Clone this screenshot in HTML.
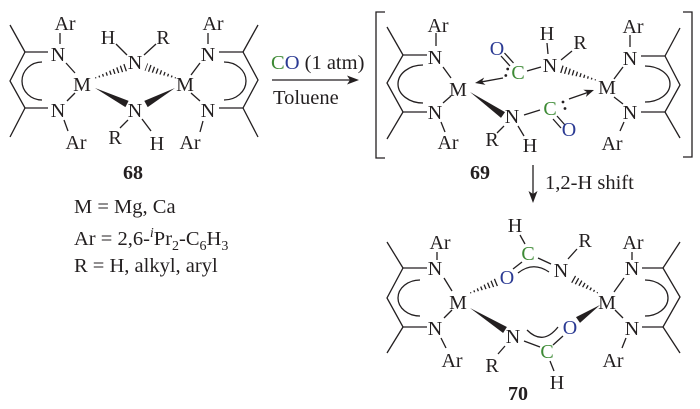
<!DOCTYPE html>
<html><head><meta charset="utf-8"><style>
html,body{margin:0;padding:0;background:#fff;}
svg{display:block;}
text{font-family:"Liberation Serif",serif;font-size:20px;fill:#231f20;}
.g{fill:#3d8a35;}
.b{fill:#2b3a93;}
.bd{font-weight:bold;}
.lg{font-size:20.5px;}
</style></head><body>
<svg width="700" height="409" viewBox="0 0 700 409" xmlns="http://www.w3.org/2000/svg">
<defs>
<clipPath id="h1"><polygon points="95,77.5 95,78.5 128.3,70.8 125.7,63.2"/></clipPath>
<clipPath id="h2"><polygon points="176,77.5 176,78.5 144.6,70.75 147.4,63.25"/></clipPath>
<clipPath id="h3"><polygon points="596,79.5 596,80.5 559.8,72.8 562.2,65.2"/></clipPath>
<clipPath id="h4"><polygon points="470,292.5 470,293.5 498.5,285.7 495.5,278.3"/></clipPath>
<clipPath id="h5"><polygon points="598,292.5 598,293.5 571.05,282.5 574.95,275.5"/></clipPath>
</defs>
<g stroke="#231f20" stroke-width="1.3" fill="none">
<!-- 68 left ring -->
<line x1="60" y1="33" x2="60" y2="44"/>
<line x1="66" y1="63" x2="75" y2="73"/>
<line x1="67" y1="101" x2="75" y2="93"/>
<line x1="64" y1="120" x2="68" y2="131"/>
<polyline points="48,52 25,52 10,81 25,108 48,108"/>
<line x1="25" y1="52" x2="10" y2="25"/>
<line x1="25" y1="108" x2="10" y2="137"/>
<path d="M42,62 A20 19 0 0 0 42,100"/>
<!-- 68 bridges -->
<line x1="116" y1="44" x2="127" y2="55"/>
<line x1="156" y1="44" x2="144" y2="55"/>
<line x1="128" y1="120" x2="120" y2="128"/>
<line x1="142" y1="119" x2="151" y2="131"/>
<!-- 68 right ring -->
<line x1="191" y1="75" x2="200" y2="63"/>
<line x1="191" y1="93" x2="200" y2="101"/>
<line x1="208" y1="33" x2="208" y2="44"/>
<line x1="203" y1="121" x2="200" y2="132"/>
<polyline points="219,52 243,52 258,80 243,108 219,108"/>
<line x1="243" y1="52" x2="258" y2="25"/>
<line x1="243" y1="108" x2="258" y2="137"/>
<path d="M224,62 A22 19 0 0 1 224,100"/>
<!-- main arrow -->
<line x1="272" y1="80" x2="352" y2="80"/>
<!-- bracket -->
<polyline points="385,12 376,12 376,158 385,158"/>
<polyline points="683,12 692,12 692,157 683,157"/>
<!-- 69 left ring -->
<line x1="436" y1="33" x2="436" y2="46"/>
<line x1="443" y1="67" x2="451" y2="78"/>
<line x1="443" y1="103" x2="451" y2="96"/>
<line x1="441" y1="122" x2="445" y2="132"/>
<polyline points="427,55 403,55 387,83 403,112 427,112"/>
<line x1="403" y1="55" x2="387" y2="27"/>
<line x1="403" y1="112" x2="387" y2="139"/>
<path d="M423,65 A25 19 0 0 0 423,103"/>
<!-- 69 center -->
<line x1="501" y1="56" x2="510" y2="66"/>
<line x1="504.5" y1="53" x2="513.5" y2="63"/>
<line x1="503" y1="78" x2="482" y2="81.8"/>
<line x1="527" y1="71" x2="541" y2="67"/>
<line x1="547" y1="43" x2="548" y2="54"/>
<line x1="572" y1="51" x2="561" y2="60"/>
<line x1="504" y1="126" x2="497" y2="133"/>
<line x1="518" y1="126" x2="524" y2="136"/>
<line x1="524" y1="115" x2="540" y2="110"/>
<line x1="553" y1="119" x2="561" y2="128"/>
<line x1="557" y1="116" x2="565" y2="125"/>
<line x1="569" y1="99" x2="588" y2="92.4"/>
<!-- 69 right ring -->
<line x1="614" y1="79" x2="623" y2="67"/>
<line x1="614" y1="97" x2="623" y2="104"/>
<line x1="630" y1="35" x2="630" y2="47"/>
<line x1="624" y1="122" x2="620" y2="131"/>
<polyline points="641,56 665,56 680,85 665,112 641,112"/>
<line x1="665" y1="56" x2="680" y2="28"/>
<line x1="665" y1="112" x2="680" y2="138"/>
<path d="M645,66 A25 18 0 0 1 645,102"/>
<!-- vertical arrow -->
<line x1="533" y1="165" x2="533" y2="196"/>
<!-- 70 left ring -->
<line x1="437" y1="252" x2="437" y2="260"/>
<line x1="444" y1="278" x2="452" y2="291"/>
<line x1="444" y1="318" x2="452" y2="310"/>
<line x1="441" y1="338" x2="446" y2="348"/>
<polyline points="427,268 403,268 387,298 403,327 427,327"/>
<line x1="403" y1="268" x2="387" y2="242"/>
<line x1="403" y1="327" x2="387" y2="353"/>
<path d="M420,280 A22 18 0 0 0 420,316"/>
<!-- 70 center -->
<line x1="520" y1="235" x2="525" y2="244"/>
<line x1="522" y1="262" x2="513" y2="269"/>
<path d="M518,273 Q533,261 549,272"/>
<line x1="538" y1="258" x2="551" y2="264"/>
<line x1="568" y1="259" x2="577" y2="249"/>
<line x1="505" y1="346" x2="498" y2="354"/>
<line x1="524" y1="341" x2="540" y2="347"/>
<line x1="550" y1="361" x2="554" y2="371"/>
<line x1="553" y1="345" x2="563" y2="336"/>
<path d="M527,330 Q543,346 558,327"/>
<!-- 70 right ring -->
<line x1="614" y1="292" x2="624" y2="278"/>
<line x1="615" y1="310" x2="623" y2="318"/>
<line x1="632" y1="252" x2="632" y2="260"/>
<line x1="626" y1="338" x2="622" y2="348"/>
<polyline points="642,268 663,268 680,297 663,327 642,327"/>
<line x1="663" y1="268" x2="680" y2="242"/>
<line x1="663" y1="327" x2="680" y2="353"/>
<path d="M645,280 A23 18 0 0 1 645,316"/>
</g>
<!-- hashed bonds -->
<g stroke="#231f20" stroke-width="10" stroke-dasharray="1.3 2.6">
<line x1="95" y1="78" x2="128" y2="66.7" clip-path="url(#h1)"/>
<line x1="176" y1="78" x2="145" y2="66.6" clip-path="url(#h2)"/>
<line x1="596" y1="80" x2="560" y2="68.7" clip-path="url(#h3)"/>
<line x1="470" y1="293" x2="498" y2="281.6" clip-path="url(#h4)"/>
<line x1="598" y1="293" x2="572" y2="278.4" clip-path="url(#h5)"/>
</g>
<!-- wedges and arrowheads -->
<g fill="#231f20">
<polygon points="95,88 125.4,107.1 128.6,100.9"/>
<polygon points="175,88 147.7,107.1 144.3,100.9"/>
<polygon points="470,92 501,117.9 505,112.1"/>
<polygon points="470,308 503.1,333 506.9,327"/>
<polygon points="600,305 580,322.9 576,317.1"/>
<polygon points="359,80 347,75.5 350,80 347,84.5"/>
<polygon points="533,203 528.5,191 533,194 537.5,191"/>
<polygon points="475,83 485.5,84.9 481.9,81.8 484.2,77.5"/>
<polygon points="594,90 585.9,97 587.4,92.4 583.3,89.8"/>
<circle cx="507.7" cy="69" r="1.4"/>
<circle cx="505.8" cy="75.5" r="1.4"/>
<circle cx="563" cy="102" r="1.4"/>
<circle cx="565" cy="108.5" r="1.4"/>
</g>
<!-- 68 labels -->
<g text-anchor="middle">
<text x="65" y="30">Ar</text>
<text x="58" y="61">N</text>
<text x="82" y="91">M</text>
<text x="58" y="117">N</text>
<text x="76" y="149">Ar</text>
<text x="108" y="44">H</text>
<text x="163" y="44">R</text>
<text x="135" y="69">N</text>
<text x="135" y="117">N</text>
<text x="115" y="144">R</text>
<text x="157" y="150">H</text>
<text x="185" y="91">M</text>
<text x="208" y="61">N</text>
<text x="213" y="30">Ar</text>
<text x="208" y="117">N</text>
<text x="190" y="149">Ar</text>
<text x="133" y="179" class="bd">68</text>
<!-- 69 -->
<text x="438" y="32">Ar</text>
<text x="435" y="64">N</text>
<text x="458" y="96">M</text>
<text x="435" y="119">N</text>
<text x="448" y="149">Ar</text>
<text x="497" y="55" class="b">O</text>
<text x="518" y="79" class="g">C</text>
<text x="550" y="72">N</text>
<text x="547" y="40">H</text>
<text x="580" y="49">R</text>
<text x="512" y="123">N</text>
<text x="492" y="146">R</text>
<text x="530" y="152">H</text>
<text x="550" y="115" class="g">C</text>
<text x="569" y="136" class="b">O</text>
<text x="607" y="94">M</text>
<text x="630" y="65">N</text>
<text x="633" y="33">Ar</text>
<text x="630" y="119">N</text>
<text x="612" y="150">Ar</text>
<text x="480" y="179" class="bd">69</text>
<!-- 70 -->
<text x="440" y="249">Ar</text>
<text x="435" y="275">N</text>
<text x="458" y="309">M</text>
<text x="435" y="335">N</text>
<text x="452" y="367">Ar</text>
<text x="515" y="232">H</text>
<text x="528" y="260" class="g">C</text>
<text x="507" y="284" class="b">O</text>
<text x="561" y="277">N</text>
<text x="585" y="247">R</text>
<text x="513" y="343">N</text>
<text x="492" y="372">R</text>
<text x="547" y="358" class="g">C</text>
<text x="557" y="389">H</text>
<text x="570" y="334" class="b">O</text>
<text x="607" y="309">M</text>
<text x="632" y="275">N</text>
<text x="633" y="249">Ar</text>
<text x="632" y="335">N</text>
<text x="613" y="367">Ar</text>
<text x="518" y="400" class="bd">70</text>
</g>
<!-- conditions -->
<text x="271" y="69" class="lg"><tspan class="g">C</tspan><tspan class="b">O</tspan> (1 atm)</text>
<text x="273" y="104" class="lg">Toluene</text>
<text x="545" y="189" class="lg">1,2-H shift</text>
<!-- legend -->
<text x="74" y="213" class="lg">M = Mg, Ca</text>
<text x="74" y="245" class="lg">Ar = 2,6-<tspan font-style="italic" font-size="14" dy="-8">i</tspan><tspan dy="8">Pr</tspan><tspan font-size="14" dy="5">2</tspan><tspan dy="-5">-C</tspan><tspan font-size="14" dy="5">6</tspan><tspan dy="-5">H</tspan><tspan font-size="14" dy="5">3</tspan></text>
<text x="74" y="272" class="lg">R = H, alkyl, aryl</text>
</svg>
</body></html>
